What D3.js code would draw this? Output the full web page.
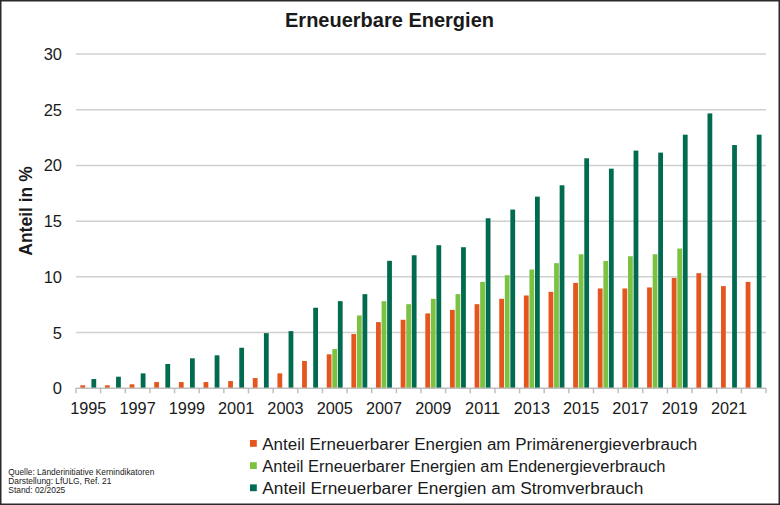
<!DOCTYPE html>
<html><head><meta charset="utf-8">
<script src="https://cdn.jsdelivr.net/npm/d3@7"></script>
<style>
html,body{margin:0;padding:0;background:#fff;}
svg{display:block;font-family:"Liberation Sans",Arial,sans-serif;}
</style></head>
<body>
<svg id="c" width="780" height="505"></svg>
<script>
const years = [1995,1996,1997,1998,1999,2000,2001,2002,2003,2004,2005,2006,2007,2008,2009,2010,2011,2012,2013,2014,2015,2016,2017,2018,2019,2020,2021,2022];
const primaer = [0.27,0.27,0.36,0.56,0.56,0.56,0.65,0.92,1.34,2.45,3.05,4.87,5.94,6.15,6.72,7.04,7.55,8.03,8.33,8.66,9.46,8.96,8.96,9.05,9.91,10.33,9.17,9.55];
const endenergie = [null,null,null,null,null,null,null,null,null,null,3.52,6.54,7.82,7.55,8.03,8.45,9.55,10.15,10.66,11.23,12.03,11.43,11.85,12.03,12.54,null,null,null];
const strom = [0.83,1.04,1.34,2.18,2.69,2.96,3.64,4.95,5.13,7.23,7.82,8.45,11.44,11.94,12.84,12.66,15.26,16.04,17.2,18.22,20.64,19.71,21.33,21.15,22.76,24.67,21.83,22.76];
const seriesNames = ["Anteil Erneuerbarer Energien am Primärenergieverbrauch","Anteil Erneuerbarer Energien am Endenergieverbrauch","Anteil Erneuerbarer Energien am Stromverbrauch"];
const seriesValues = [primaer, endenergie, strom];
const colors = ["#E5561E","#7CC242","#006B4F"];
const yTicks = [0,5,10,15,20,25,30];
const title = "Erneuerbare Energien";
const yTitle = "Anteil in %";
const sourceLines = ["Quelle: Länderinitiative Kernindikatoren","Darstellung: LfULG, Ref. 21","Stand: 02/2025"];

const svg = d3.select("#c");
// frame
svg.append("rect").attr("x",0.75).attr("y",0.75).attr("width",778.5).attr("height",503.5)
  .attr("fill","#fff").attr("stroke","#2a2a2a").attr("stroke-width",1.5);

const x = d3.scaleBand().domain(years).range([76,766]).paddingInner(0).paddingOuter(0);
const x1 = d3.scaleBand().domain([0,1,2]).range([x.bandwidth()*0.175, x.bandwidth()*0.82]).paddingInner(0.14).paddingOuter(0);
const y = d3.scaleLinear().domain([0,30]).range([388.3,54]);

// grid
svg.append("g").selectAll("line").data(yTicks.filter(d=>d>0)).join("line")
  .attr("x1",76).attr("x2",766).attr("y1",d=>y(d)).attr("y2",d=>y(d))
  .attr("stroke","#D0D0D0").attr("stroke-width",1.5);

// y labels
svg.append("g").selectAll("text").data(yTicks).join("text")
  .attr("x",62).attr("y",d=>y(d)).attr("dy","0.36em").attr("text-anchor","end")
  .attr("font-size",16.5).attr("fill","#1a1a1a").text(d=>d);

// bars
const rows = [];
years.forEach((yr,i)=>seriesValues.forEach((arr,s)=>{ if(arr[i]!=null) rows.push({yr,s,v:arr[i]}); }));
svg.append("g").selectAll("rect").data(rows).join("rect")
  .attr("x",d=>x(d.yr)+x1(d.s)).attr("width",x1.bandwidth())
  .attr("y",d=>y(d.v)).attr("height",d=>y(0)-y(d.v)).attr("fill",d=>colors[d.s]);

// x axis
const xa = svg.append("g");
xa.append("line").attr("x1",76).attr("x2",766).attr("y1",y(0)).attr("y2",y(0)).attr("stroke","#BFBFBF").attr("stroke-width",1.5);
const bounds = years.map(d=>x(d)).concat([x.range()[1]]);
xa.selectAll("line.t").data(bounds).join("line").attr("class","t")
  .attr("x1",d=>d).attr("x2",d=>d).attr("y1",y(0)).attr("y2",y(0)+5)
  .attr("stroke","#BFBFBF").attr("stroke-width",1.5);
xa.selectAll("text").data(years.filter((d,i)=>i%2===0)).join("text")
  .attr("x",d=>x(d)+x.bandwidth()/2).attr("y",414).attr("text-anchor","middle")
  .attr("font-size",16.3).attr("fill","#1a1a1a").text(d=>d);

// title
svg.append("text").attr("x",389.5).attr("y",27).attr("text-anchor","middle")
  .attr("font-size",20).attr("font-weight","bold").attr("fill","#1a1a1a").text(title);
// y title
svg.append("text").attr("transform","translate(31.5,211) rotate(-90)").attr("text-anchor","middle")
  .attr("font-size",17.5).attr("font-weight","bold").attr("fill","#1a1a1a").text(yTitle);

// legend
const lg = svg.append("g").selectAll("g").data(seriesNames).join("g")
  .attr("transform",(d,i)=>`translate(250,${450+i*22.2})`);
lg.append("rect").attr("x",0).attr("y",-10).attr("width",6.8).attr("height",6.8).attr("fill",(d,i)=>colors[i]);
lg.append("text").attr("x",12.3).attr("y",0).attr("font-size",17.3).attr("fill","#1a1a1a")
  .attr("textLength",(d,i)=>[435,403,381][i]).attr("lengthAdjust","spacingAndGlyphs").text(d=>d);

// source
svg.append("g").selectAll("text").data(sourceLines).join("text")
  .attr("x",8.3).attr("y",(d,i)=>475+i*9.2).attr("font-size",9).attr("fill","#1a1a1a")
  .attr("textLength",(d,i)=>[146,103,57][i]).attr("lengthAdjust","spacingAndGlyphs").text(d=>d);
</script>
</body></html>
